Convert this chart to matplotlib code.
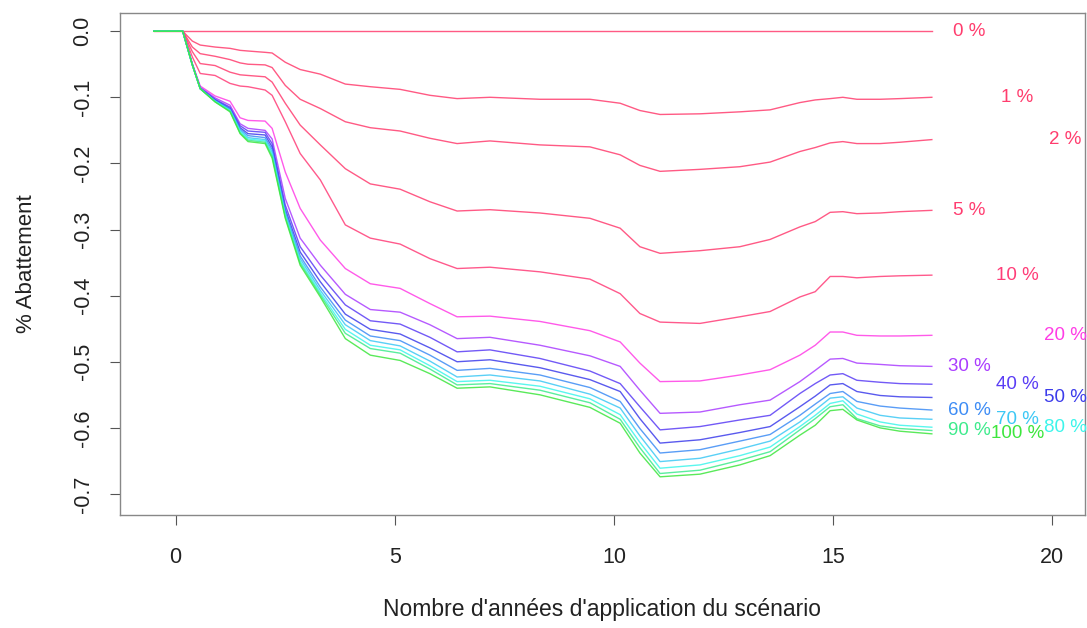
import matplotlib
matplotlib.use("Agg")
import matplotlib.pyplot as plt

plt.rcParams['font.family'] = ['Liberation Sans', 'DejaVu Sans']

# années
x = [-0.5, 0.16, 0.38, 0.56, 0.90, 1.24, 1.47, 1.65, 2.04, 2.20, 2.50, 2.84,
     3.30, 3.87, 4.44, 5.12, 5.80, 6.42, 7.17, 8.31, 9.45, 10.14, 10.59, 11.05,
     11.96, 12.87, 13.56, 14.24, 14.59, 14.93, 15.22, 15.54, 16.07, 16.52, 17.25]

p0 = [0.0] * len(x)
p1 = [0, 0, -0.015, -0.021, -0.024, -0.026, -0.029, -0.030, -0.032, -0.033, -0.047, -0.058,
      -0.065, -0.080, -0.084, -0.088, -0.097, -0.102, -0.100, -0.103, -0.103, -0.109, -0.120, -0.126,
      -0.125, -0.122, -0.119, -0.108, -0.104, -0.102, -0.100, -0.103, -0.103, -0.102, -0.100]
p2 = [0, 0, -0.024, -0.034, -0.038, -0.043, -0.048, -0.050, -0.051, -0.055, -0.082, -0.103,
      -0.117, -0.137, -0.146, -0.151, -0.162, -0.170, -0.166, -0.172, -0.175, -0.187, -0.203, -0.212,
      -0.209, -0.205, -0.198, -0.182, -0.176, -0.169, -0.167, -0.170, -0.170, -0.168, -0.164]
p5 = [0, 0, -0.031, -0.049, -0.052, -0.062, -0.066, -0.067, -0.069, -0.077, -0.109, -0.142,
      -0.172, -0.208, -0.231, -0.239, -0.258, -0.272, -0.270, -0.275, -0.283, -0.298, -0.326, -0.336,
      -0.332, -0.326, -0.315, -0.296, -0.288, -0.274, -0.273, -0.276, -0.275, -0.273, -0.271]
p10 = [0, 0, -0.039, -0.064, -0.067, -0.079, -0.083, -0.084, -0.089, -0.097, -0.137, -0.185,
       -0.225, -0.293, -0.313, -0.322, -0.344, -0.359, -0.357, -0.364, -0.375, -0.397, -0.427, -0.440,
       -0.442, -0.432, -0.424, -0.402, -0.394, -0.371, -0.371, -0.373, -0.371, -0.370, -0.369]
p20 = [0, 0, -0.049, -0.083, -0.098, -0.106, -0.131, -0.135, -0.136, -0.147, -0.213, -0.268,
       -0.316, -0.359, -0.382, -0.389, -0.412, -0.432, -0.431, -0.439, -0.453, -0.470, -0.502, -0.530,
       -0.529, -0.520, -0.512, -0.490, -0.475, -0.455, -0.455, -0.460, -0.461, -0.461, -0.460]
p30 = [0, 0, -0.050, -0.085, -0.101, -0.112, -0.140, -0.147, -0.150, -0.163, -0.253, -0.313,
       -0.354, -0.398, -0.421, -0.425, -0.444, -0.465, -0.463, -0.475, -0.491, -0.507, -0.543, -0.578,
       -0.576, -0.565, -0.558, -0.530, -0.513, -0.496, -0.495, -0.502, -0.504, -0.506, -0.507]
p40 = [0, 0, -0.050, -0.086, -0.103, -0.115, -0.143, -0.151, -0.153, -0.170, -0.263, -0.326,
       -0.369, -0.414, -0.438, -0.443, -0.463, -0.485, -0.482, -0.495, -0.514, -0.533, -0.568, -0.603,
       -0.598, -0.588, -0.581, -0.548, -0.533, -0.520, -0.518, -0.528, -0.531, -0.533, -0.534]
p50 = [0, 0, -0.051, -0.087, -0.104, -0.117, -0.146, -0.155, -0.157, -0.175, -0.269, -0.334,
       -0.379, -0.428, -0.451, -0.458, -0.479, -0.500, -0.497, -0.509, -0.527, -0.545, -0.586, -0.623,
       -0.618, -0.607, -0.598, -0.568, -0.552, -0.535, -0.533, -0.545, -0.551, -0.553, -0.554]
p60 = [0, 0, -0.051, -0.087, -0.105, -0.118, -0.148, -0.158, -0.161, -0.179, -0.273, -0.340,
       -0.387, -0.437, -0.461, -0.468, -0.490, -0.513, -0.510, -0.520, -0.539, -0.560, -0.601, -0.638,
       -0.633, -0.620, -0.610, -0.581, -0.564, -0.548, -0.545, -0.560, -0.567, -0.570, -0.573]
p70 = [0, 0, -0.051, -0.087, -0.106, -0.119, -0.150, -0.161, -0.164, -0.183, -0.276, -0.344,
       -0.392, -0.444, -0.468, -0.476, -0.499, -0.523, -0.520, -0.529, -0.549, -0.570, -0.612, -0.651,
       -0.646, -0.632, -0.620, -0.591, -0.573, -0.555, -0.553, -0.570, -0.581, -0.585, -0.587]
p80 = [0, 0, -0.051, -0.087, -0.106, -0.120, -0.152, -0.163, -0.166, -0.186, -0.279, -0.348,
       -0.396, -0.451, -0.475, -0.482, -0.506, -0.530, -0.528, -0.537, -0.556, -0.580, -0.622, -0.661,
       -0.656, -0.642, -0.629, -0.598, -0.581, -0.563, -0.559, -0.579, -0.591, -0.596, -0.599]
p90 = [0, 0, -0.051, -0.087, -0.107, -0.121, -0.154, -0.165, -0.168, -0.189, -0.281, -0.351,
       -0.399, -0.457, -0.480, -0.487, -0.511, -0.535, -0.533, -0.543, -0.562, -0.587, -0.630, -0.669,
       -0.664, -0.649, -0.636, -0.603, -0.586, -0.568, -0.565, -0.586, -0.597, -0.601, -0.604]
p100 = [0, 0, -0.051, -0.087, -0.107, -0.122, -0.155, -0.167, -0.170, -0.192, -0.283, -0.354,
        -0.402, -0.465, -0.490, -0.498, -0.518, -0.540, -0.538, -0.550, -0.569, -0.593, -0.638, -0.674,
        -0.670, -0.656, -0.642, -0.611, -0.596, -0.574, -0.572, -0.588, -0.600, -0.605, -0.609]

series = [p0, p1, p2, p5, p10, p20, p30, p40, p50, p60, p70, p80, p90, p100]
labels = ['0 %', '1 %', '2 %', '5 %', '10 %', '20 %', '30 %', '40 %', '50 %',
          '60 %', '70 %', '80 %', '90 %', '100 %']
colors = ['#FF3D6E', '#FF3D6E', '#FF3D6E', '#FF3D70', '#FF3D78', '#FF3DE6', '#AA3DFF',
          '#5A3DF5', '#3D3DEB', '#3D8CF5', '#3DC8F5', '#3DF5EB', '#3DEB8C', '#3DE63D']
label_x = [18.1, 19.2, 20.3]

fig = plt.figure(figsize=(10.87, 6.28), dpi=100)
ax = fig.add_axes([0.1104, 0.18, 0.8876, 0.799])

for i, (y, lab, c) in enumerate(zip(series, labels, colors)):
    ax.plot(x, y, color=c, linewidth=1.0, alpha=0.85)
    ax.text(label_x[i % 3], y[-1], lab, color=c, fontsize=13.5,
            ha='center', va='center')

ax.set_xlim(-1.27, 20.74)
ax.set_ylim(-0.7317, 0.0272)
ax.set_xticks([0, 5, 10, 15, 20])
ax.set_yticks([0.0, -0.1, -0.2, -0.3, -0.4, -0.5, -0.6, -0.7])
ax.set_yticklabels(['0.0', '-0.1', '-0.2', '-0.3', '-0.4', '-0.5', '-0.6', '-0.7'])
ax.tick_params(axis='both', direction='out', length=7, width=0.8, color='#555555',
               labelsize=15.5, labelcolor='#222222')
ax.tick_params(axis='x', pad=16)
ax.tick_params(axis='y', pad=12, labelrotation=90)
for t in ax.get_yticklabels():
    t.set_va('center')
for s in ax.spines.values():
    s.set_color('#888888')
    s.set_linewidth(1.0)

ax.set_xlabel("Nombre d'années d'application du scénario", fontsize=16.5, color='#222222', labelpad=22)
ax.set_ylabel('% Abattement', fontsize=16, color='#222222', labelpad=26)

fig.savefig('out.png', dpi=100)
